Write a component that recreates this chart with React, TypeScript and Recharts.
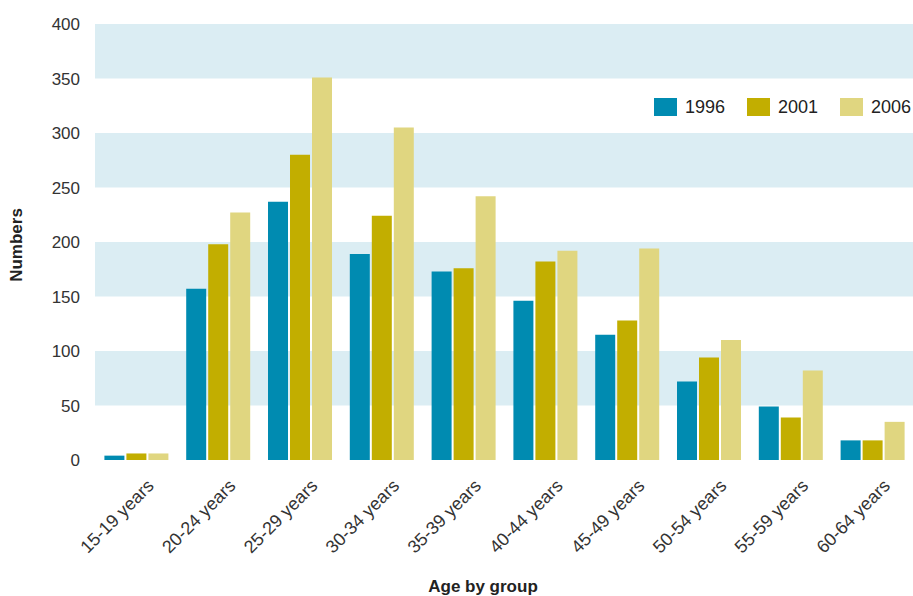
import React from 'react'
import {
  BarChart,
  Bar,
  XAxis,
  YAxis,
  Legend,
  ReferenceArea,
  Label,
} from 'recharts'

const ageGroups = [
  '15-19 years',
  '20-24 years',
  '25-29 years',
  '30-34 years',
  '35-39 years',
  '40-44 years',
  '45-49 years',
  '50-54 years',
  '55-59 years',
  '60-64 years',
]

const values1996 = [4, 157, 237, 189, 173, 146, 115, 72, 49, 18]
const values2001 = [6, 198, 280, 224, 176, 182, 128, 94, 39, 18]
const values2006 = [6, 227, 351, 305, 242, 192, 194, 110, 82, 35]

const yTicks = [0, 50, 100, 150, 200, 250, 300, 350, 400]
const bands = [
  [50, 100],
  [150, 200],
  [250, 300],
  [350, 400],
]

const series = [
  { key: 'y1996', name: '1996', color: '#008bb1' },
  { key: 'y2001', name: '2001', color: '#c2ae00' },
  { key: 'y2006', name: '2006', color: '#e0d680' },
]

const data = ageGroups.map((group, i) => ({
  group,
  y1996: values1996[i],
  y2001: values2001[i],
  y2006: values2006[i],
}))

const FONT = '"Liberation Sans", Arial, sans-serif'

const AgeTick = (props: any) => {
  const { x, y, payload } = props
  return (
    <g transform={`translate(${x + 19},${y + 19})`}>
      <text
        x={0}
        y={0}
        textAnchor='end'
        transform='rotate(-45)'
        fill='#333'
        fontSize={18}
        fontFamily={FONT}
      >
        {payload.value}
      </text>
    </g>
  )
}

const LegendRow = () => (
  <div style={{ display: 'flex', alignItems: 'center', fontFamily: FONT }}>
    {series.map((s, i) => (
      <div
        key={s.key}
        style={{
          display: 'flex',
          alignItems: 'center',
          marginLeft: i === 0 ? 0 : 22,
        }}
      >
        <span
          style={{
            display: 'inline-block',
            width: 23,
            height: 18,
            background: s.color,
            marginRight: 8,
          }}
        />
        <span
          style={{
            display: 'inline-block',
            width: 40,
            fontSize: 18,
            color: '#222',
            lineHeight: '18px',
            whiteSpace: 'nowrap',
          }}
        >
          {s.name}
        </span>
      </div>
    ))}
  </div>
)

const NumbersLabel = (props: any) => {
  const { viewBox } = props
  const cx = 16
  const cy = viewBox.y + viewBox.height / 2 + 3
  return (
    <text
      x={cx}
      y={cy}
      transform={`rotate(-90,${cx},${cy})`}
      textAnchor='middle'
      dominantBaseline='central'
      fontSize={17}
      fontWeight='bold'
      fontFamily={FONT}
      fill='#222'
    >
      Numbers
    </text>
  )
}

const App = () => {
  return (
    <div style={{ position: 'absolute', left: 0, top: 0 }}>
      <BarChart
        width={913}
        height={596}
        data={data}
        margin={{ top: 24, right: 0, bottom: 0, left: 0 }}
        barCategoryGap='11.5%'
        barGap={2}
      >
        {bands.map(([y1, y2]) => (
          <ReferenceArea
            key={y1}
            y1={y1}
            y2={y2}
            fill='#dbedf3'
            fillOpacity={1}
            stroke='none'
          />
        ))}
        <XAxis
          dataKey='group'
          axisLine={false}
          tickLine={false}
          interval={0}
          height={136}
          tick={<AgeTick />}
        >
          <Label
            value='Age by group'
            position='insideBottom'
            offset={4}
            dx={-21}
            fontSize={17}
            fontWeight='bold'
            fontFamily={FONT}
            fill='#222'
          />
        </XAxis>
        <YAxis
          domain={[0, 400]}
          ticks={yTicks}
          width={95}
          axisLine={false}
          tickLine={false}
          tickSize={0}
          tickMargin={15}
          tick={{ fill: '#333', fontSize: 17, fontFamily: FONT }}
        >
          <Label content={<NumbersLabel />} />
        </YAxis>
        <Legend
          layout='vertical'
          align='center'
          verticalAlign='middle'
          content={<LegendRow />}
          wrapperStyle={{ top: 98, left: 654, width: 'auto', height: 18 }}
        />
        {series.map((s) => (
          <Bar
            key={s.key}
            dataKey={s.key}
            name={s.name}
            fill={s.color}
            isAnimationActive={false}
          />
        ))}
      </BarChart>
    </div>
  )
}

export default App
